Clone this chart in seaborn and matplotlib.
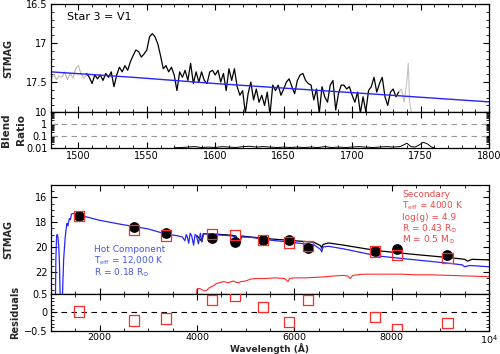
import numpy as np
import pandas as pd
import matplotlib
matplotlib.use("Agg")
import matplotlib.pyplot as plt
import seaborn as sns
from matplotlib.ticker import MultipleLocator, FixedLocator, NullFormatter, LogLocator

# ---------------- data: top panel (UV spectrum) ----------------
gray_wave_a = np.arange(1480, 1507, 2)
gray_mag_a = [17.46, 17.40, 17.47, 17.42, 17.44, 17.37, 17.47, 17.39, 17.45, 17.33,
              17.29, 17.40, 17.45, 17.41]

spec_wave = np.arange(1506, 1735, 2)
spec_mag = [17.39, 17.44, 17.52, 17.41, 17.46, 17.41, 17.48, 17.39, 17.44, 17.37,
            17.56, 17.41, 17.31, 17.37, 17.29, 17.35, 17.24, 17.16, 17.09, 17.11,
            17.18, 17.14, 17.09, 16.92, 16.88, 16.92, 17.01, 17.16, 17.33, 17.29,
            17.37, 17.31, 17.41, 17.61, 17.37, 17.44, 17.35, 17.48, 17.26, 17.52,
            17.37, 17.50,
            17.37, 17.48, 17.52, 17.37, 17.35, 17.41, 17.35, 17.50, 17.39, 17.61,
            17.33, 17.48, 17.33, 17.56, 17.67, 17.61, 17.90, 17.65, 17.50, 17.73,
            17.59, 17.76, 17.67, 17.80, 17.63, 17.92, 17.54, 17.61, 17.54, 17.67,
            17.59, 17.50, 17.46, 17.56, 17.65, 17.48, 17.41, 17.39, 17.48, 17.52,
            17.54, 17.73, 17.59, 17.90, 17.56, 17.69, 17.76, 17.54, 17.48, 17.86,
            17.65, 17.54,
            17.54, 17.59, 17.56, 17.67, 17.76, 17.63, 17.90, 17.69, 17.88, 17.61,
            17.56, 17.44, 17.63, 17.52, 17.44, 17.69, 17.80, 17.63, 17.59, 17.69,
            17.63]

gray_wave_b = [1734, 1736, 1738, 1740, 1741, 1742, 1744, 1746]
gray_mag_b = [17.63, 17.59, 17.76, 17.50, 17.26, 17.76, 17.95, 17.95]

uvmodel_wave = [1480, 1540, 1600, 1660, 1720, 1800]
uvmodel_mag = [17.37, 17.44, 17.52, 17.59, 17.66, 17.755]

# ---------------- blend ratio ----------------
blend_wave = [1570, 1575, 1580, 1585, 1590, 1595, 1600, 1605, 1610, 1615, 1620, 1625,
              1630, 1635, 1640, 1645, 1650, 1655, 1660, 1665, 1670, 1675, 1680, 1685,
              1690, 1695, 1700, 1705, 1710, 1715, 1720, 1725, 1730, 1735, 1740, 1743,
              1746, 1749, 1752, 1755, 1758, 1760]
blend_ratio = [0.0105, 0.011, 0.012, 0.013, 0.011, 0.012, 0.011, 0.013, 0.012, 0.011,
               0.013, 0.014, 0.012, 0.013, 0.012, 0.011, 0.012, 0.011, 0.012, 0.011,
               0.012, 0.011, 0.013, 0.011, 0.012, 0.011, 0.012, 0.013, 0.012, 0.011,
               0.012, 0.013, 0.012, 0.013, 0.025, 0.013, 0.012, 0.018, 0.030, 0.022,
               0.012, 0.0105]

# ---------------- bottom panel: SED ----------------
hot_wave = [1060, 1090, 1100, 1115, 1130, 1145, 1160, 1175, 1190, 1230, 1260, 1290,
            1310, 1330, 1345, 1360, 1380, 1400, 1420, 1450, 1500, 1560, 1700, 2000,
            2400, 2700, 3000, 3350, 3600, 3700, 3750, 3780, 3800, 3830, 3860, 3890,
            3930, 3960, 3990, 4030, 4070, 4100, 4130, 4200, 4300, 4340, 4380, 4500,
            4700, 4800, 4861, 4920, 5100, 5500, 6000, 6200, 6400, 6540, 6563, 6590,
            6700, 7000, 7700, 8000, 8500, 9200, 9450, 9500, 9600, 10000]
hot_mag = [24.5, 24.5, 21.0, 19.1, 19.0, 19.3, 20.0, 21.5, 24.5, 24.5, 21.0, 19.3,
           18.6, 18.1, 18.3, 18.0, 17.7, 17.8, 17.35, 17.3, 17.35, 17.42, 17.55, 17.85,
           18.15, 18.35, 18.55, 18.95, 19.1, 19.2, 19.5, 19.0, 19.2, 19.7, 18.9, 19.1,
           19.85, 19.0, 19.1, 19.75, 18.9, 19.6, 18.95, 18.95, 19.0, 19.3, 19.0, 19.05,
           19.1, 19.2, 19.8, 19.2, 19.22, 19.45, 19.65, 19.75, 19.82, 20.2, 20.4, 20.0,
           19.95, 20.15, 20.72, 20.85, 21.05, 21.33, 21.45, 21.6, 21.5, 21.6]

comb_wave = [4000, 4100, 4130, 4300, 4340, 4380, 4500, 4700, 4800, 4861, 4920, 5100,
             5500, 6000, 6200, 6400, 6540, 6563, 6590, 6700, 7000, 7700, 8000, 8500,
             9200, 9500, 9560, 9650, 10000]
comb_mag = [19.1, 19.55, 18.93, 18.97, 19.25, 18.97, 19.0, 19.05, 19.12, 19.7, 19.12,
            19.2, 19.35, 19.5, 19.56, 19.62, 19.9, 20.1, 19.8, 19.68, 19.85, 20.3,
            20.42, 20.62, 20.87, 21.0, 21.15, 21.0, 21.05]

sec_wave = [3990, 4000, 4050, 4100, 4150, 4200, 4250, 4300, 4350, 4400, 4450, 4500,
            4550, 4600, 4650, 4700, 4750, 4800, 4860, 4900, 5000, 5100, 5200, 5400,
            5600, 5800, 5870, 5900, 6000, 6200, 6500, 6800, 7000, 7100, 7145, 7200,
            7400, 7800, 8200, 8500, 8800, 9200, 9600, 10000]
sec_mag = [23.8, 23.4, 23.35, 23.45, 23.55, 23.5, 23.3, 23.2, 23.1, 22.95, 22.9, 22.85,
           22.8, 22.85, 22.9, 22.8, 22.75, 22.85, 22.9, 22.8, 22.75, 22.6, 22.55, 22.55,
           22.5, 22.55, 22.8, 22.55, 22.5, 22.5, 22.45, 22.35, 22.3, 22.35, 22.55, 22.3,
           22.2, 22.2, 22.2, 22.25, 22.25, 22.3, 22.35, 22.4]

phot_wave = [1582, 2699, 3363, 4302, 4781, 5350, 5884, 6288, 7658, 8104, 9145]
phot_obs = [17.54, 18.40, 18.89, 19.29, 19.64, 19.48, 19.42, 20.10, 20.32, 20.18, 20.64]
phot_model = [17.50, 18.62, 19.08, 18.97, 19.02, 19.42, 19.64, 19.91, 20.37, 20.64, 20.91]
residuals = [0.03, -0.22, -0.16, 0.33, 0.46, 0.14, -0.25, 0.33, -0.13, -0.45, -0.29]

# ---------------- styling ----------------
sns.set_theme(style="ticks")
plt.rcParams["font.family"] = ["DejaVu Sans"]
plt.rcParams["axes.linewidth"] = 0.9
for a in ("x", "y"):
    plt.rcParams[f"{a}tick.direction"] = "in"
    plt.rcParams[f"{a}tick.major.size"] = 4
    plt.rcParams[f"{a}tick.minor.size"] = 2
    plt.rcParams[f"{a}tick.major.width"] = 0.8
    plt.rcParams[f"{a}tick.minor.width"] = 0.6
    plt.rcParams[f"{a}tick.minor.visible"] = True
    plt.rcParams[f"{a}tick.labelsize"] = 7
    plt.rcParams[f"{a}tick.color"] = "black"
    plt.rcParams[f"{a}tick.major.pad"] = 2.5
plt.rcParams["xtick.top"] = True
plt.rcParams["ytick.right"] = True

BLUE = "#2424ff"
RED = "#ff2a2a"

fig = plt.figure(figsize=(5.0, 3.54), dpi=100)
L, W = 0.102, 0.876
ax1 = fig.add_axes([L, 0.6836, W, 0.305])
ax2 = fig.add_axes([L, 0.5819, W, 0.1017])
ax3 = fig.add_axes([L, 0.1695, W, 0.308])
ax4 = fig.add_axes([L, 0.065, W, 0.1045])

# ---- top panel ----
kw = dict(estimator=None, sort=False, legend=False)
sns.lineplot(x=gray_wave_a, y=gray_mag_a, ax=ax1, color="#b8b8b8", lw=0.8, **kw)
sns.lineplot(x=gray_wave_b, y=gray_mag_b, ax=ax1, color="#c4c4c4", lw=0.8, **kw)
sns.lineplot(x=spec_wave, y=spec_mag, ax=ax1, color="black", lw=0.9, **kw)
sns.lineplot(x=uvmodel_wave, y=uvmodel_mag, ax=ax1, color=BLUE, lw=1.0, **kw)
ax1.set_xlim(1480, 1800)
ax1.set_ylim(17.885, 16.5)
ax1.xaxis.set_major_locator(MultipleLocator(50))
ax1.xaxis.set_minor_locator(MultipleLocator(10))
ax1.yaxis.set_major_locator(FixedLocator([16.5, 17.0, 17.5]))
ax1.yaxis.set_minor_locator(MultipleLocator(0.1))
ax1.set_yticklabels(["16.5", "17", "17.5"])
ax1.tick_params(axis="x", labelbottom=False)
ax1.set_xlabel("")
ax1.set_ylabel("STMAG", fontsize=7, fontweight="bold")
ax1.yaxis.set_label_coords(-0.087, 0.5)
ax1.text(1492, 16.66, "Star 3 = V1", fontsize=8, color="black", va="center")

# ---- blend panel ----
sns.lineplot(x=blend_wave, y=blend_ratio, ax=ax2, color="black", lw=0.7, **kw)
ax2.set_yscale("log")
ax2.set_xlim(1480, 1800)
ax2.set_ylim(0.01, 10)
for yv in (1.0, 0.1):
    ax2.axhline(yv, color="#999999", lw=0.8, ls=(0, (5, 4)))
ax2.yaxis.set_major_locator(FixedLocator([0.01, 0.1, 1, 10]))
ax2.set_yticklabels(["0.01", "0.1", "1", "10"])
ax2.yaxis.set_minor_locator(LogLocator(base=10, subs=np.arange(2, 10)))
ax2.yaxis.set_minor_formatter(NullFormatter())
ax2.xaxis.set_minor_locator(MultipleLocator(10))
ax2.set_xticks([1500, 1550, 1600, 1650, 1700, 1750, 1800])
ax2.set_xticklabels(["1500", "1550", "1600", "1650", "1700", "1750", "1800"])
ax2.set_xlabel("")
ax2.set_ylabel("")
fig.text(0.013, 0.633, "Blend", rotation=90, fontsize=7.5, fontweight="bold",
         ha="center", va="center")
fig.text(0.042, 0.633, "Ratio", rotation=90, fontsize=7.5, fontweight="bold",
         ha="center", va="center")

# ---- SED panel ----
sns.lineplot(x=comb_wave, y=comb_mag, ax=ax3, color="black", lw=0.9, **kw)
sns.lineplot(x=hot_wave, y=hot_mag, ax=ax3, color=BLUE, lw=0.9, **kw)
sns.lineplot(x=sec_wave, y=sec_mag, ax=ax3, color=RED, lw=0.8, **kw)
sns.scatterplot(x=phot_wave, y=phot_obs, ax=ax3, color="black", s=60,
                edgecolor="black", linewidth=0, zorder=4, legend=False)
sns.scatterplot(x=phot_wave, y=phot_model, ax=ax3, marker="s", s=55,
                facecolor="none", edgecolor=RED, linewidth=0.9, zorder=5, legend=False)
ax3.set_xlim(1000, 10000)
ax3.set_ylim(23.8, 15.0)
ax3.xaxis.set_major_locator(MultipleLocator(2000))
ax3.xaxis.set_minor_locator(MultipleLocator(500))
ax3.yaxis.set_major_locator(FixedLocator([16, 18, 20, 22]))
ax3.yaxis.set_minor_locator(MultipleLocator(0.5))
ax3.tick_params(axis="x", labelbottom=False)
ax3.set_xlabel("")
ax3.set_ylabel("STMAG", fontsize=7, fontweight="bold")
ax3.yaxis.set_label_coords(-0.087, 0.5)

hot_lines = ["Hot Component", r"T$_{\rm eff}$ = 12,000 K", r"R = 0.18 R$_{\odot}$"]
for i, t in enumerate(hot_lines):
    ax3.text(1890, 20.23 + i * 0.91, t, color="#4455ee", fontsize=6.5, va="center")
sec_lines = ["Secondary", r"T$_{\rm eff}$ = 4000 K", "log(g) = 4.9",
             r"R = 0.43 R$_{\odot}$", r"M = 0.5 M$_{\odot}$"]
for i, t in enumerate(sec_lines):
    ax3.text(8213, 15.78 + i * 0.91, t, color="#f04848", fontsize=6.5, va="center")

# ---- residual panel ----
sns.scatterplot(x=phot_wave, y=residuals, ax=ax4, marker="s", s=55,
                facecolor="none", edgecolor=RED, linewidth=0.9, zorder=5, legend=False)
ax4.axhline(0, color="black", lw=0.8, ls=(0, (5, 4)))
ax4.set_xlim(1000, 10000)
ax4.set_ylim(-0.5, 0.5)
ax4.set_xticks([2000, 4000, 6000, 8000, 10000])
ax4.set_xticklabels(["2000", "4000", "6000", "8000", r"10$^4$"])
ax4.tick_params(axis="x", pad=1.5, labelsize=6.8)
ax4.xaxis.set_minor_locator(MultipleLocator(500))
ax4.set_yticks([-0.5, 0, 0.5])
ax4.set_yticklabels(["\u22120.5", "0", "0.5"])
ax4.yaxis.set_minor_locator(MultipleLocator(0.1))
ax4.set_ylabel("Residuals", fontsize=7, fontweight="bold")
ax4.yaxis.set_label_coords(-0.07, 0.5)
ax4.set_xlabel("")
fig.text(L + W * 0.5, 0.0, "Wavelength (\u00c5)", fontsize=6.5, fontweight="bold",
         ha="center", va="bottom")

for ax in (ax1, ax2, ax3, ax4):
    ax.grid(False)
    for s in ax.spines.values():
        s.set_visible(True)
        s.set_color("black")

fig.savefig("out.png", dpi=100)
